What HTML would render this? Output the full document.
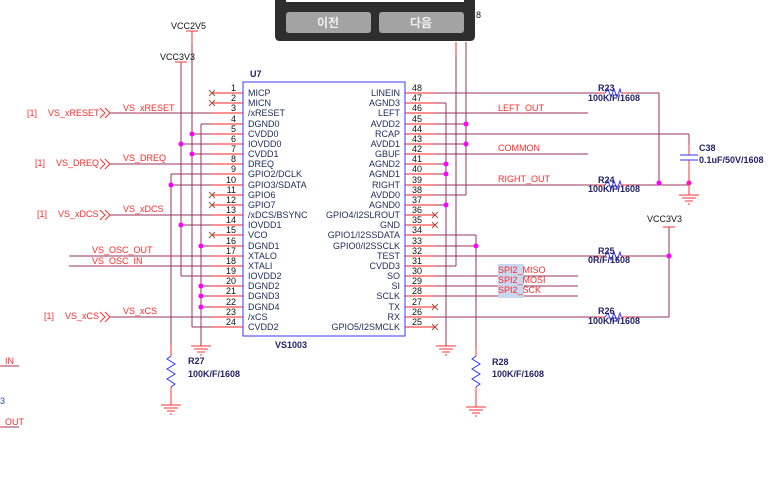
<!DOCTYPE html>
<html><head><meta charset="utf-8"><style>
html,body{margin:0;padding:0;background:#fff;}
svg{display:block;}
text{font-family:"Liberation Sans",Arial,sans-serif;}
</style></head><body>
<svg width="773" height="490" viewBox="0 0 773 490" xmlns="http://www.w3.org/2000/svg">
<g stroke="#99335f" stroke-width="1" fill="none">
<!-- left rails -->
<line x1="192" y1="31" x2="192" y2="327"/>
<line x1="181" y1="62" x2="181" y2="276"/>
<line x1="171" y1="174" x2="171" y2="350"/>
<line x1="201" y1="124" x2="201" y2="346"/>
<!-- left wires to pins -->
<line x1="192" y1="134" x2="212" y2="134"/>
<line x1="181" y1="144" x2="212" y2="144"/>
<line x1="192" y1="154" x2="212" y2="154"/>
<line x1="171" y1="174" x2="212" y2="174"/>
<line x1="171" y1="185" x2="212" y2="185"/>
<line x1="181" y1="225" x2="212" y2="225"/>
<line x1="201" y1="124" x2="212" y2="124"/>
<line x1="201" y1="246" x2="212" y2="246"/>
<line x1="181" y1="276" x2="212" y2="276"/>
<line x1="201" y1="286" x2="212" y2="286"/>
<line x1="201" y1="296" x2="212" y2="296"/>
<line x1="201" y1="307" x2="212" y2="307"/>
<line x1="192" y1="327" x2="212" y2="327"/>
<line x1="110" y1="113" x2="212" y2="113"/>
<line x1="110" y1="164" x2="212" y2="164"/>
<line x1="110" y1="215" x2="212" y2="215"/>
<line x1="110" y1="317" x2="212" y2="317"/>
<line x1="69" y1="256" x2="212" y2="256"/>
<line x1="69" y1="266" x2="212" y2="266"/>
<!-- right side -->
<line x1="435" y1="93" x2="598" y2="93"/>
<line x1="628" y1="93" x2="659" y2="93"/>
<line x1="659" y1="93" x2="659" y2="185"/>
<line x1="435" y1="103" x2="446" y2="103"/>
<line x1="446" y1="103" x2="446" y2="346"/>
<line x1="435" y1="113" x2="588" y2="113"/>
<line x1="435" y1="124" x2="466" y2="124"/>
<line x1="466" y1="42" x2="466" y2="195"/>
<line x1="435" y1="134" x2="689" y2="134"/>
<line x1="689" y1="134" x2="689" y2="152"/>
<line x1="435" y1="144" x2="466" y2="144"/>
<line x1="435" y1="154" x2="588" y2="154"/>
<line x1="435" y1="164" x2="446" y2="164"/>
<line x1="435" y1="174" x2="446" y2="174"/>
<line x1="435" y1="185" x2="598" y2="185"/>
<line x1="628" y1="185" x2="689" y2="185"/>
<line x1="435" y1="195" x2="466" y2="195"/>
<line x1="435" y1="205" x2="446" y2="205"/>
<line x1="435" y1="235" x2="476" y2="235"/>
<line x1="476" y1="235" x2="476" y2="352"/>
<line x1="435" y1="246" x2="476" y2="246"/>
<line x1="435" y1="256" x2="598" y2="256"/>
<line x1="628" y1="256" x2="669" y2="256"/>
<line x1="669" y1="227" x2="669" y2="317"/>
<line x1="628" y1="317" x2="669" y2="317"/>
<line x1="435" y1="317" x2="598" y2="317"/>
<line x1="456" y1="42" x2="456" y2="266"/>
<line x1="435" y1="266" x2="456" y2="266"/>
<line x1="435" y1="276" x2="578" y2="276"/>
<line x1="435" y1="286" x2="578" y2="286"/>
<line x1="435" y1="296" x2="578" y2="296"/>
</g>
<!-- red top segments -->
<line x1="192" y1="31" x2="192" y2="45" stroke="#ff3030"/>
<line x1="456" y1="42" x2="456" y2="55" stroke="#ff3030"/>
<line x1="186" y1="31" x2="198" y2="31" stroke="#ff3030"/>
<line x1="175" y1="62" x2="187" y2="62" stroke="#ff3030"/>
<line x1="663" y1="227" x2="675" y2="227" stroke="#ff3030"/>
<!-- pin lines -->
<g stroke="#ff2020" stroke-width="1">
<line x1="212" y1="93" x2="243" y2="93"/><line x1="212" y1="103" x2="243" y2="103"/><line x1="212" y1="113" x2="243" y2="113"/><line x1="212" y1="124" x2="243" y2="124"/><line x1="212" y1="134" x2="243" y2="134"/><line x1="212" y1="144" x2="243" y2="144"/><line x1="212" y1="154" x2="243" y2="154"/><line x1="212" y1="164" x2="243" y2="164"/><line x1="212" y1="174" x2="243" y2="174"/><line x1="212" y1="185" x2="243" y2="185"/><line x1="212" y1="195" x2="243" y2="195"/><line x1="212" y1="205" x2="243" y2="205"/><line x1="212" y1="215" x2="243" y2="215"/><line x1="212" y1="225" x2="243" y2="225"/><line x1="212" y1="235" x2="243" y2="235"/><line x1="212" y1="246" x2="243" y2="246"/><line x1="212" y1="256" x2="243" y2="256"/><line x1="212" y1="266" x2="243" y2="266"/><line x1="212" y1="276" x2="243" y2="276"/><line x1="212" y1="286" x2="243" y2="286"/><line x1="212" y1="296" x2="243" y2="296"/><line x1="212" y1="307" x2="243" y2="307"/><line x1="212" y1="317" x2="243" y2="317"/><line x1="212" y1="327" x2="243" y2="327"/>
<line x1="405" y1="93" x2="435" y2="93"/><line x1="405" y1="103" x2="435" y2="103"/><line x1="405" y1="113" x2="435" y2="113"/><line x1="405" y1="124" x2="435" y2="124"/><line x1="405" y1="134" x2="435" y2="134"/><line x1="405" y1="144" x2="435" y2="144"/><line x1="405" y1="154" x2="435" y2="154"/><line x1="405" y1="164" x2="435" y2="164"/><line x1="405" y1="174" x2="435" y2="174"/><line x1="405" y1="185" x2="435" y2="185"/><line x1="405" y1="195" x2="435" y2="195"/><line x1="405" y1="205" x2="435" y2="205"/><line x1="405" y1="215" x2="435" y2="215"/><line x1="405" y1="225" x2="435" y2="225"/><line x1="405" y1="235" x2="435" y2="235"/><line x1="405" y1="246" x2="435" y2="246"/><line x1="405" y1="256" x2="435" y2="256"/><line x1="405" y1="266" x2="435" y2="266"/><line x1="405" y1="276" x2="435" y2="276"/><line x1="405" y1="286" x2="435" y2="286"/><line x1="405" y1="296" x2="435" y2="296"/><line x1="405" y1="307" x2="435" y2="307"/><line x1="405" y1="317" x2="435" y2="317"/><line x1="405" y1="327" x2="435" y2="327"/>
</g>
<!-- NC marks -->
<g stroke="#a05040" stroke-width="1">
<path d="M209 90l6 6M215 90l-6 6M209 100l6 6M215 100l-6 6M209 192l6 6M215 192l-6 6M209 202l6 6M215 202l-6 6M209 232l6 6M215 232l-6 6"/>
<path d="M432 212l6 6M438 212l-6 6M432 222l6 6M438 222l-6 6M432 304l6 6M438 304l-6 6M432 324l6 6M438 324l-6 6"/>
</g>
<!-- chip box -->
<rect x="243" y="82" width="162" height="254" fill="none" stroke="#3a3aff" stroke-width="1"/>
<!-- dots -->
<g fill="#ff00ff">
<circle cx="192" cy="134" r="2.5"/><circle cx="181" cy="144" r="2.5"/><circle cx="192" cy="154" r="2.5"/><circle cx="171" cy="185" r="2.5"/><circle cx="181" cy="225" r="2.5"/><circle cx="201" cy="246" r="2.5"/><circle cx="201" cy="286" r="2.5"/><circle cx="201" cy="296" r="2.5"/><circle cx="201" cy="307" r="2.5"/>
<circle cx="466" cy="124" r="2.5"/><circle cx="466" cy="144" r="2.5"/><circle cx="446" cy="164" r="2.5"/><circle cx="446" cy="174" r="2.5"/><circle cx="446" cy="205" r="2.5"/><circle cx="476" cy="246" r="2.5"/><circle cx="659" cy="183" r="2.5"/><circle cx="689" cy="183" r="2.5"/><circle cx="669" cy="256" r="2.5"/>
</g>
<!-- resistors horizontal -->
<g fill="none" stroke-width="1">
<g stroke="#ff3030"><line x1="598" y1="93" x2="605" y2="93"/><line x1="621" y1="93" x2="628" y2="93"/><line x1="598" y1="185" x2="605" y2="185"/><line x1="621" y1="185" x2="628" y2="185"/><line x1="598" y1="256" x2="605" y2="256"/><line x1="621" y1="256" x2="628" y2="256"/><line x1="598" y1="317" x2="605" y2="317"/><line x1="621" y1="317" x2="628" y2="317"/></g>
<g stroke="#3333ff">
<path d="M605 93l3-4 3 8 3-8 3 8 3-8 1 4"/>
<path d="M605 185l3-4 3 8 3-8 3 8 3-8 1 4"/>
<path d="M605 256l3-4 3 8 3-8 3 8 3-8 1 4"/>
<path d="M605 317l3-4 3 8 3-8 3 8 3-8 1 4"/>
<path d="M171 356l-4 3 8 5-8 5 8 5-8 5 8 5-4 3"/>
<path d="M476 356l-4 3 8 5-8 5 8 5-8 5 8 5-4 3"/>
<line x1="680" y1="155" x2="698" y2="155"/><line x1="680" y1="160" x2="698" y2="160"/>
</g>
<g stroke="#ff3030"><line x1="171" y1="346" x2="171" y2="356"/><line x1="171" y1="387" x2="171" y2="405"/><line x1="476" y1="346" x2="476" y2="356"/><line x1="476" y1="387" x2="476" y2="407"/><line x1="689" y1="145" x2="689" y2="155"/><line x1="689" y1="160" x2="689" y2="195"/></g>
<!-- grounds -->
<g stroke="#ff3030">
<path d="M161 405h20M164 408h14M167 411h8M170 414h2"/>
<path d="M191 346h20M194 349h14M197 352h8M200 355h2"/>
<path d="M436 346h20M439 349h14M442 352h8M445 355h2"/>
<path d="M466 407h20M469 410h14M472 413h8M475 416h2"/>
<path d="M679 195h20M682 198h14M685 201h8M688 204h2"/>
</g>
<!-- signal arrows -->
<g stroke="#ff3030"><path d="M100 108l5 5-5 5M105 108l5 5-5 5"/><path d="M100 159l5 5-5 5M105 159l5 5-5 5"/><path d="M100 210l5 5-5 5M105 210l5 5-5 5"/><path d="M100 312l5 5-5 5M105 312l5 5-5 5"/></g>
<line x1="0" y1="366" x2="19" y2="366" stroke="#99335f"/>
<line x1="0" y1="427" x2="19" y2="427" stroke="#99335f"/>
</g>
<!-- SPI highlight -->
<rect x="498" y="264" width="26" height="34" fill="#c8d8f0"/>
<!-- texts -->
<g font-size="9" fill="#ff2a2a">
<text x="27" y="116">[1]</text><text x="48" y="116">VS_xRESET</text><text x="123" y="111">VS_xRESET</text>
<text x="35" y="166">[1]</text><text x="56" y="166">VS_DREQ</text><text x="123" y="161">VS_DREQ</text>
<text x="37" y="217">[1]</text><text x="58" y="217">VS_xDCS</text><text x="123" y="212">VS_xDCS</text>
<text x="44" y="319">[1]</text><text x="65" y="319">VS_xCS</text><text x="123" y="314">VS_xCS</text>
<text x="92" y="253">VS_OSC_OUT</text><text x="92" y="264">VS_OSC_IN</text>
<text x="498" y="111">LEFT_OUT</text><text x="498" y="151">COMMON</text><text x="498" y="182">RIGHT_OUT</text>
<text x="498" y="273">SPI2_MISO</text><text x="498" y="283">SPI2_MOSI</text><text x="498" y="293">SPI2_SCK</text>
<text x="0" y="364">_IN</text><text x="0" y="425">_OUT</text>
</g>
<g font-size="9" fill="#111">
<text x="171" y="29">VCC2V5</text><text x="160" y="60">VCC3V3</text><text x="647" y="222">VCC3V3</text>
<text x="476" y="18">8</text>
</g>
<g font-size="9" fill="#22226a" font-weight="bold">
<text x="250" y="77">U7</text><text x="275" y="348">VS1003</text>
<text x="188" y="364">R27</text><text x="188" y="377">100K/F/1608</text>
<text x="492" y="365">R28</text><text x="492" y="377">100K/F/1608</text>
<text x="598" y="91">R23</text><text x="588" y="101">100K/F/1608</text>
<text x="598" y="183">R24</text><text x="588" y="192">100K/F/1608</text>
<text x="598" y="254">R25</text><text x="588" y="263">0R/F/1608</text>
<text x="598" y="314">R26</text><text x="588" y="324">100K/F/1608</text>
<text x="699" y="151">C38</text><text x="699" y="163">0.1uF/50V/1608</text>
</g>
<text x="0" y="404" font-size="9" fill="#2244cc">3</text>
<g font-size="9" fill="#111" text-anchor="end">
<text x="236" y="91">1</text><text x="236" y="101">2</text><text x="236" y="111">3</text><text x="236" y="122">4</text><text x="236" y="132">5</text><text x="236" y="142">6</text><text x="236" y="152">7</text><text x="236" y="162">8</text><text x="236" y="172">9</text><text x="236" y="183">10</text><text x="236" y="193">11</text><text x="236" y="203">12</text><text x="236" y="213">13</text><text x="236" y="223">14</text><text x="236" y="233">15</text><text x="236" y="244">16</text><text x="236" y="254">17</text><text x="236" y="264">18</text><text x="236" y="274">19</text><text x="236" y="284">20</text><text x="236" y="294">21</text><text x="236" y="305">22</text><text x="236" y="315">23</text><text x="236" y="325">24</text>
</g>
<g font-size="9" fill="#111">
<text x="412" y="91">48</text><text x="412" y="101">47</text><text x="412" y="111">46</text><text x="412" y="122">45</text><text x="412" y="132">44</text><text x="412" y="142">43</text><text x="412" y="152">42</text><text x="412" y="162">41</text><text x="412" y="172">40</text><text x="412" y="183">39</text><text x="412" y="193">38</text><text x="412" y="203">37</text><text x="412" y="213">36</text><text x="412" y="223">35</text><text x="412" y="233">34</text><text x="412" y="244">33</text><text x="412" y="254">32</text><text x="412" y="264">31</text><text x="412" y="274">30</text><text x="412" y="284">29</text><text x="412" y="294">28</text><text x="412" y="305">27</text><text x="412" y="315">26</text><text x="412" y="325">25</text>
</g>
<g font-size="9" fill="#1c2a5a">
<text x="248" y="96">MICP</text><text x="248" y="106">MICN</text><text x="248" y="116">/xRESET</text><text x="248" y="127">DGND0</text><text x="248" y="137">CVDD0</text><text x="248" y="147">IOVDD0</text><text x="248" y="157">CVDD1</text><text x="248" y="167">DREQ</text><text x="248" y="177">GPIO2/DCLK</text><text x="248" y="188">GPIO3/SDATA</text><text x="248" y="198">GPIO6</text><text x="248" y="208">GPIO7</text><text x="248" y="218">/xDCS/BSYNC</text><text x="248" y="228">IOVDD1</text><text x="248" y="238">VCO</text><text x="248" y="249">DGND1</text><text x="248" y="259">XTALO</text><text x="248" y="269">XTALI</text><text x="248" y="279">IOVDD2</text><text x="248" y="289">DGND2</text><text x="248" y="299">DGND3</text><text x="248" y="310">DGND4</text><text x="248" y="320">/xCS</text><text x="248" y="330">CVDD2</text>
</g>
<g font-size="9" fill="#1c2a5a" text-anchor="end">
<text x="400" y="96">LINEIN</text><text x="400" y="106">AGND3</text><text x="400" y="116">LEFT</text><text x="400" y="127">AVDD2</text><text x="400" y="137">RCAP</text><text x="400" y="147">AVDD1</text><text x="400" y="157">GBUF</text><text x="400" y="167">AGND2</text><text x="400" y="177">AGND1</text><text x="400" y="188">RIGHT</text><text x="400" y="198">AVDD0</text><text x="400" y="208">AGND0</text><text x="400" y="218">GPIO4/I2SLROUT</text><text x="400" y="228">GND</text><text x="400" y="238">GPIO1/I2SSDATA</text><text x="400" y="249">GPIO0/I2SSCLK</text><text x="400" y="259">TEST</text><text x="400" y="269">CVDD3</text><text x="400" y="279">SO</text><text x="400" y="289">SI</text><text x="400" y="299">SCLK</text><text x="400" y="310">TX</text><text x="400" y="320">RX</text><text x="400" y="330">GPIO5/I2SMCLK</text>
</g>
<!-- dialog overlay -->
<path d="M275 0H475V36Q475 41 470 41H280Q275 41 275 36Z" fill="#2e2e2e"/>
<rect x="286" y="0" width="178" height="2" fill="#fff"/>
<rect x="286" y="12" width="85" height="21" rx="3" fill="#a3a3a3"/>
<rect x="379" y="12" width="85" height="21" rx="3" fill="#a3a3a3"/>
<text x="328" y="27" font-size="12" font-weight="bold" fill="#f0f0f0" text-anchor="middle" style='font-family:"Liberation Sans","Noto Sans CJK KR",sans-serif'>이전</text>
<text x="421" y="27" font-size="12" font-weight="bold" fill="#f0f0f0" text-anchor="middle" style='font-family:"Liberation Sans","Noto Sans CJK KR",sans-serif'>다음</text>
</svg>
</body></html>
